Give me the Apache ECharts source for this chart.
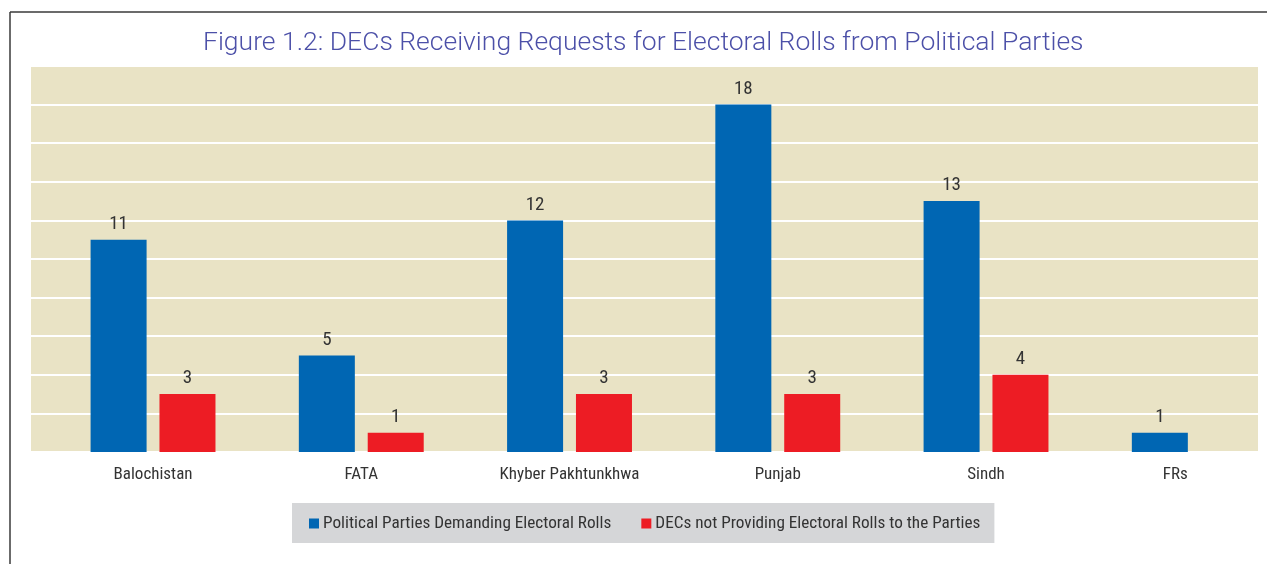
<!DOCTYPE html>
<html>
<head>
<meta charset="utf-8">
<script src="https://cdn.jsdelivr.net/npm/echarts@6/dist/echarts.min.js"></script>
<style>
html,body{margin:0;padding:0;background:#fff;}
#c{width:1267px;height:564px;}
</style>
</head>
<body>
<div id="c"></div>
<script>
const categories = ['Balochistan', 'FATA', 'Khyber Pakhtunkhwa', 'Punjab', 'Sindh', 'FRs'];
const demanding = [11, 5, 12, 18, 13, 1];
const notProviding = [3, 1, 3, 3, 4, null];
const seriesNames = ['Political Parties Demanding Electoral Rolls', 'DECs not Providing Electoral Rolls to the Parties'];
const titleText = 'Figure 1.2: DECs Receiving Requests for Electoral Rolls from Political Parties';

const NARROW = '"Liberation Sans Narrow", "Arial Narrow", "Roboto Condensed", sans-serif';
const toPairs = arr => arr.map((v, i) => [i, v]).filter(p => p[1] != null);
const catIdx = categories.map((c, i) => i);

const chart = echarts.init(document.getElementById('c'), null, {renderer: 'canvas'});
chart.setOption({
  animation: false,
  title: {
    text: titleText,
    left: 203,
    top: 30,
    padding: 0,
    textStyle: {fontFamily: 'Roboto, sans-serif', fontWeight: 300, fontSize: 26.5, color: '#4c50a8'}
  },
  graphic: [
    {type: 'line', shape: {x1: 10, y1: 12, x2: 1267, y2: 12}, style: {stroke: '#3a3a3a', lineWidth: 1.5}},
    {type: 'line', shape: {x1: 10, y1: 12, x2: 10, y2: 564}, style: {stroke: '#3a3a3a', lineWidth: 1.5}}
  ],
  legend: {
    left: 292,
    top: 503,
    backgroundColor: '#d5d6d8',
    padding: [12, 14, 11, 17],
    itemWidth: 10,
    itemHeight: 10,
    itemGap: 30,
    icon: 'rect',
    textStyle: {fontFamily: NARROW, fontSize: 17.2, color: '#333', padding: [0, 0, 0, -1]},
    data: seriesNames
  },
  grid: [
    {left: 31, top: 66, width: 1227, height: 386, show: true, backgroundColor: '#e9e3c5', borderWidth: 0}
  ],
  xAxis: [
    {
      type: 'value', min: -0.586, max: 5.306,
      axisLine: {show: false}, axisTick: {show: false}, splitLine: {show: false},
      axisLabel: {
        customValues: catIdx,
        margin: 14, fontFamily: NARROW, fontSize: 17, color: '#333',
        formatter: function (v) {
          const name = categories[Math.round(v)];
          return name === 'FRs' ? '{f|' + name + '}' : name;
        },
        rich: {f: {fontFamily: NARROW, fontSize: 17, color: '#333', padding: [0, 38, 0, 0]}}
      }
    }
  ],
  yAxis: [
    {type: 'value', min: 0, max: 20, interval: 2,
     axisLabel: {show: false}, axisLine: {show: false}, axisTick: {show: false},
     splitLine: {show: true, lineStyle: {color: '#ffffff', width: 2}}}
  ],
  series: [
    {
      name: seriesNames[0], type: 'bar',
      data: toPairs(demanding), barWidth: 56, barGap: '23%',
      itemStyle: {color: '#0066b3'},
      label: {show: true, position: 'top', distance: 6, fontFamily: NARROW, fontSize: 19, color: '#333',
              formatter: p => p.value[1]}
    },
    {
      name: seriesNames[1], type: 'bar',
      data: toPairs(notProviding), barWidth: 56, barGap: '23%',
      itemStyle: {color: '#ed1c24'},
      label: {show: true, position: 'top', distance: 6, fontFamily: NARROW, fontSize: 19, color: '#333',
              formatter: p => p.value[1]}
    }
  ]
});
</script>
</body>
</html>
